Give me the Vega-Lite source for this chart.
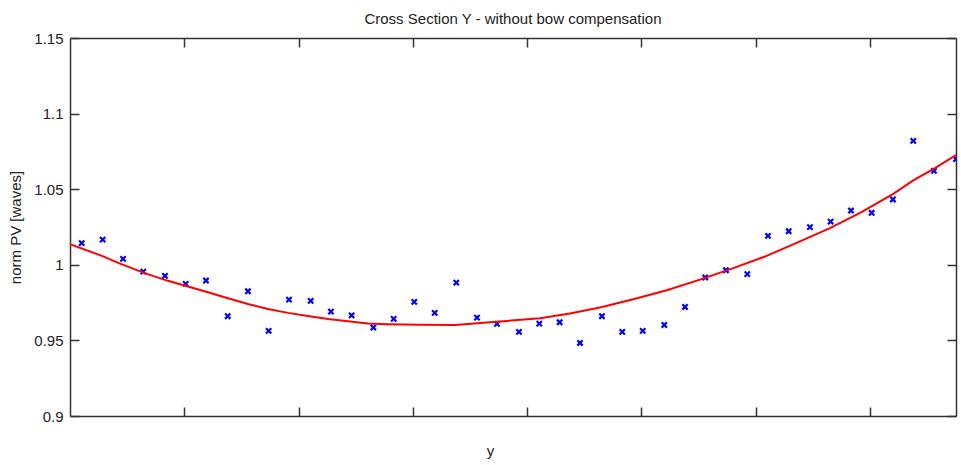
{
  "$schema": "https://vega.github.io/schema/vega-lite/v6.json",
  "width": 886,
  "height": 378,
  "autosize": {"type": "none"},
  "padding": {"left": 70, "top": 38, "right": 5, "bottom": 49},
  "background": "white",
  "title": {
    "text": "Cross Section Y - without bow compensation",
    "font": "Liberation Sans",
    "fontSize": 15,
    "fontWeight": "normal",
    "color": "#222222",
    "offset": 4
  },
  "config": {
    "view": {"stroke": null},
    "axis": {
      "domainColor": "#333333",
      "domainWidth": 1.5,
      "tickColor": "#333333",
      "tickWidth": 1.5,
      "tickSize": -9,
      "grid": false,
      "labelFont": "Liberation Sans",
      "labelFontSize": 15,
      "labelColor": "#222222",
      "titleFont": "Liberation Sans",
      "titleFontSize": 15,
      "titleFontWeight": "normal",
      "titleColor": "#222222"
    }
  },
  "layer": [
    {
      "data": {
        "values": [
          {"x": 0.102, "v": 1.0143}, {"x": 0.286, "v": 1.0167}, {"x": 0.464, "v": 1.0039},
          {"x": 0.641, "v": 0.9955}, {"x": 0.831, "v": 0.9927}, {"x": 1.012, "v": 0.9874},
          {"x": 1.190, "v": 0.9896}, {"x": 1.380, "v": 0.9660}, {"x": 1.557, "v": 0.9825},
          {"x": 1.738, "v": 0.9563}, {"x": 1.916, "v": 0.9770}, {"x": 2.106, "v": 0.9761},
          {"x": 2.283, "v": 0.9690}, {"x": 2.464, "v": 0.9666}, {"x": 2.654, "v": 0.9585},
          {"x": 2.832, "v": 0.9642}, {"x": 3.012, "v": 0.9755}, {"x": 3.191, "v": 0.9682},
          {"x": 3.380, "v": 0.9882}, {"x": 3.561, "v": 0.9651}, {"x": 3.736, "v": 0.9609},
          {"x": 3.928, "v": 0.9556}, {"x": 4.106, "v": 0.9611}, {"x": 4.284, "v": 0.9620},
          {"x": 4.462, "v": 0.9483}, {"x": 4.654, "v": 0.9660}, {"x": 4.832, "v": 0.9556},
          {"x": 5.011, "v": 0.9563}, {"x": 5.200, "v": 0.9602}, {"x": 5.381, "v": 0.9721},
          {"x": 5.558, "v": 0.9916}, {"x": 5.739, "v": 0.9964}, {"x": 5.926, "v": 0.9938},
          {"x": 6.107, "v": 1.0191}, {"x": 6.288, "v": 1.0222}, {"x": 6.474, "v": 1.0249},
          {"x": 6.655, "v": 1.0286}, {"x": 6.833, "v": 1.0359}, {"x": 7.014, "v": 1.0344},
          {"x": 7.200, "v": 1.0432}, {"x": 7.378, "v": 1.0820}, {"x": 7.559, "v": 1.0622},
          {"x": 7.752, "v": 1.0699}
        ]
      },
      "mark": {
        "type": "point",
        "shape": "M-1,-1L1,1M1,-1L-1,1",
        "filled": false,
        "stroke": "#0000ff",
        "strokeWidth": 2.2,
        "size": 28,
        "opacity": 1,
        "clip": true
      },
      "encoding": {
        "x": {
          "field": "x",
          "type": "quantitative",
          "scale": {"domain": [0, 7.752], "nice": false, "zero": false},
          "axis": {"orient": "bottom", "values": [1, 2, 3, 4, 5, 6, 7], "labels": false, "title": "y", "titlePadding": 27, "titleX": 420}
        },
        "y": {
          "field": "v",
          "type": "quantitative",
          "scale": {"domain": [0.9, 1.15], "nice": false, "zero": false},
          "axis": {"orient": "left", "values": [0.9, 0.95, 1, 1.05, 1.1, 1.15], "format": "~g", "labelPadding": 16, "title": "norm PV [waves]", "titlePadding": 10}
        }
      }
    },
    {
      "data": {
        "values": [
          {"x": 0, "v": 1.0137}, {"x": 0.274, "v": 1.0061}, {"x": 0.449, "v": 1.0004},
          {"x": 0.654, "v": 0.9945}, {"x": 0.857, "v": 0.9894}, {"x": 1.032, "v": 0.9856},
          {"x": 1.207, "v": 0.9819}, {"x": 1.382, "v": 0.9779}, {"x": 1.557, "v": 0.9741},
          {"x": 1.732, "v": 0.9708}, {"x": 1.907, "v": 0.9682}, {"x": 2.082, "v": 0.9662},
          {"x": 2.257, "v": 0.9642}, {"x": 2.432, "v": 0.9627}, {"x": 2.607, "v": 0.9611},
          {"x": 2.782, "v": 0.9607}, {"x": 3.062, "v": 0.9603}, {"x": 3.368, "v": 0.9602},
          {"x": 3.646, "v": 0.9618}, {"x": 4.112, "v": 0.9647}, {"x": 4.374, "v": 0.9678},
          {"x": 4.637, "v": 0.9717}, {"x": 4.928, "v": 0.9772}, {"x": 5.221, "v": 0.9832},
          {"x": 5.512, "v": 0.9902}, {"x": 5.803, "v": 0.9978}, {"x": 6.095, "v": 1.0059},
          {"x": 6.387, "v": 1.0155}, {"x": 6.649, "v": 1.0242}, {"x": 6.929, "v": 1.0350},
          {"x": 7.203, "v": 1.0469}, {"x": 7.378, "v": 1.0558}, {"x": 7.568, "v": 1.0640},
          {"x": 7.752, "v": 1.0725}
        ]
      },
      "mark": {"type": "line", "color": "#ff0000", "strokeWidth": 2, "clip": true},
      "encoding": {
        "x": {
          "field": "x",
          "type": "quantitative",
          "axis": {"orient": "top", "values": [1, 2, 3, 4, 5, 6, 7], "labels": false, "title": null}
        },
        "y": {
          "field": "v",
          "type": "quantitative",
          "axis": {"orient": "right", "values": [0.9, 0.95, 1, 1.05, 1.1, 1.15], "labels": false, "title": null}
        }
      }
    }
  ],
  "resolve": {"axis": {"x": "independent", "y": "independent"}}
}
